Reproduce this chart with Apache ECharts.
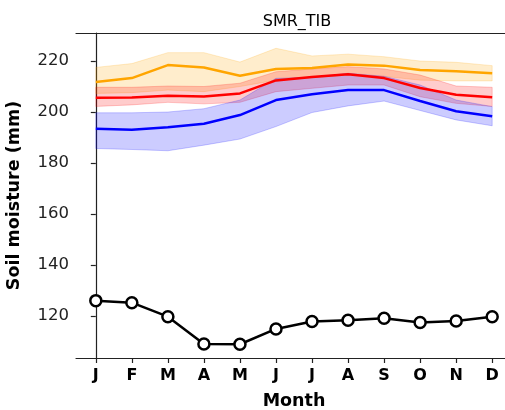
<!DOCTYPE html>
<html>
<head>
<meta charset="utf-8">
<script src="https://cdn.jsdelivr.net/npm/echarts@6/dist/echarts.min.js"></script>
<style>html,body{margin:0;padding:0;background:#fff}#chart{width:505px;height:410px}</style>
</head>
<body>
<div id="chart"></div>
<script>
// Monthly soil moisture, SMR_TIB
const months = ['J','F','M','A','M','J','J','A','S','O','N','D'];
const yTicks = [120, 140, 160, 180, 200, 220];

const orangeMean  = [211.8, 213.3, 218.4, 217.5, 214.2, 216.9, 217.3, 218.6, 218.2, 216.5, 216.0, 215.2];
const orangeUpper = [217.5, 219.0, 223.3, 223.3, 219.6, 225.0, 222.0, 222.7, 221.7, 220.0, 219.5, 218.2];
const orangeLower = [207.3, 207.6, 208.6, 208.0, 210.0, 212.5, 213.5, 214.5, 214.0, 212.5, 212.2, 212.2];

const redMean  = [205.6, 205.7, 206.4, 206.1, 207.3, 212.4, 213.7, 214.8, 213.3, 209.4, 206.8, 205.8];
const redUpper = [209.7, 209.7, 210.2, 210.0, 211.3, 215.8, 216.9, 217.8, 216.9, 214.5, 210.2, 209.7];
const redLower = [202.2, 202.8, 203.8, 203.2, 203.8, 208.0, 209.3, 210.6, 210.6, 206.0, 203.4, 202.2];

const blueMean  = [193.4, 193.0, 194.0, 195.4, 198.8, 204.7, 207.0, 208.6, 208.6, 204.3, 200.3, 198.3];
const blueUpper = [199.7, 199.7, 200.0, 201.3, 204.7, 213.2, 213.6, 215.2, 214.0, 210.6, 204.7, 202.1];
const blueLower = [185.7, 185.3, 184.8, 187.0, 189.4, 194.3, 199.8, 202.4, 204.3, 200.6, 196.9, 194.6];

const obs = [126.0, 125.2, 119.7, 109.0, 108.9, 114.9, 117.8, 118.3, 119.1, 117.4, 118.0, 119.7];

const pts = arr => arr.map((v, i) => [i, v]);

// Shaded spread between lower and upper bounds, drawn as one polygon
function band(name, lower, upper, rgb) {
  return {
    name: name + '_band', type: 'custom', silent: true, z: 1,
    data: lower.map((v, i) => [i, v, upper[i]]),
    encode: { x: 0, y: [1, 2] },
    renderItem: function (params, api) {
      if (params.dataIndex !== 0) return null;
      const poly = [];
      for (let i = 0; i < upper.length; i++) poly.push(api.coord([i, upper[i]]));
      for (let i = lower.length - 1; i >= 0; i--) poly.push(api.coord([i, lower[i]]));
      return {
        type: 'polygon',
        shape: { points: poly },
        style: { fill: 'rgba(' + rgb + ',0.2)', stroke: 'rgba(' + rgb + ',0.2)', lineWidth: 1 }
      };
    }
  };
}

function meanLine(name, data, color) {
  return {
    name: name, type: 'line', data: pts(data), symbol: 'none',
    lineStyle: { width: 2.5, color: color }, z: 3
  };
}

const font = 'DejaVu Sans';
const xMin = -0.55, xMax = 11.55;
const chart = echarts.init(document.getElementById('chart'), null, { renderer: 'canvas' });
chart.setOption({
  animation: false,
  backgroundColor: '#fff',
  title: {
    text: 'SMR_TIB', left: 292, top: 9, textAlign: 'center',
    textStyle: { fontFamily: font, fontSize: 16, fontWeight: 'normal', color: '#000' }
  },
  grid: { left: 76, top: 33, bottom: 52, right: -7, containLabel: false, outerBoundsMode: 'none' },
  xAxis: [{
    type: 'value', min: xMin, max: xMax,
    name: 'Month', nameLocation: 'middle', nameGap: 34,
    nameTextStyle: { fontFamily: font, fontSize: 17.5, fontWeight: 'bold', color: '#000' },
    axisLine: { show: true, lineStyle: { color: '#222', width: 1.2 } },
    axisTick: { show: true, length: 5, lineStyle: { color: '#222', width: 1.2 }, customValues: months.map((m, i) => i) },
    axisLabel: {
      customValues: months.map((m, i) => i),
      formatter: v => months[Math.round(v)],
      fontFamily: font, fontSize: 16, fontWeight: 'bold', color: '#000', margin: 10
    },
    splitLine: { show: false }
  }, {
    // top frame edge
    type: 'value', position: 'top', min: xMin, max: xMax,
    axisLine: { show: true, lineStyle: { color: '#222', width: 1.2 } },
    axisTick: { show: false }, axisLabel: { show: false }, splitLine: { show: false }
  }],
  yAxis: {
    type: 'value', min: 103.5, max: 231,
    name: 'Soil moisture (mm)', nameLocation: 'middle', nameGap: 53, nameRotate: 90,
    nameTextStyle: { fontFamily: font, fontSize: 17.5, fontWeight: 'bold', color: '#000' },
    axisLine: { show: true, lineStyle: { color: '#222', width: 1.2 } },
    axisTick: { show: true, length: 5, lineStyle: { color: '#222', width: 1.2 }, customValues: yTicks },
    axisLabel: {
      customValues: yTicks,
      fontFamily: font, fontSize: 16.5, color: '#222', margin: 7
    },
    splitLine: { show: false }
  },
  series: [
    band('orange', orangeLower, orangeUpper, '255,165,0'),
    band('red', redLower, redUpper, '255,0,0'),
    band('blue', blueLower, blueUpper, '0,0,255'),
    meanLine('orange', orangeMean, '#FFA500'),
    meanLine('red', redMean, '#FF0000'),
    meanLine('blue', blueMean, '#0000FF'),
    {
      name: 'obs', type: 'line', data: pts(obs),
      symbol: 'circle', symbolSize: 11,
      itemStyle: { color: '#fff', borderColor: '#000', borderWidth: 2.5 },
      lineStyle: { width: 2.5, color: '#000' }, z: 4
    }
  ]
});
</script>
</body>
</html>
